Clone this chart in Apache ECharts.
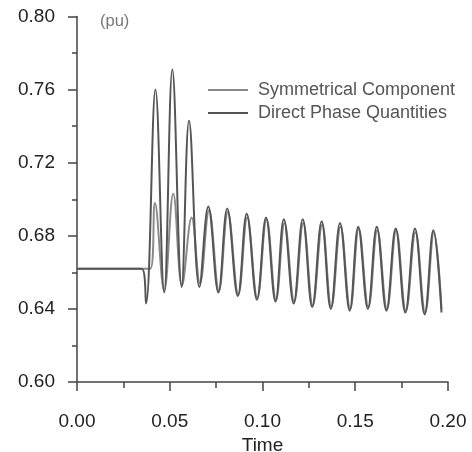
<!DOCTYPE html>
<html>
<head>
<meta charset="utf-8">
<script src="https://cdn.jsdelivr.net/npm/echarts@6/dist/echarts.min.js"></script>
<style>
html,body{margin:0;padding:0;background:#fff;}
#c{width:472px;height:452px;}
</style>
</head>
<body>
<div id="c"></div>
<script>
var seriesNames = ['Symmetrical Component', 'Direct Phase Quantities'];
var xTicks = [0.00, 0.05, 0.10, 0.15, 0.20];
var yTicks = [0.60, 0.64, 0.68, 0.72, 0.76, 0.80];

var dirTime = [0, 0.0350, 0.0372, 0.0423, 0.0470, 0.0514, 0.0564, 0.0604, 0.0660, 0.0708, 0.0762, 0.0810, 0.0867, 0.0915, 0.0970, 0.1019, 0.1070, 0.1115, 0.1168, 0.1217, 0.1268, 0.1319, 0.1368, 0.1418, 0.1470, 0.1516, 0.1568, 0.1616, 0.1668, 0.1718, 0.1770, 0.1822, 0.1874, 0.1921, 0.1965];
var dirValue = [0.662, 0.662, 0.643, 0.760, 0.649, 0.771, 0.652, 0.743, 0.652, 0.696, 0.649, 0.695, 0.647, 0.692, 0.645, 0.690, 0.644, 0.689, 0.643, 0.689, 0.641, 0.688, 0.640, 0.687, 0.639, 0.685, 0.640, 0.685, 0.639, 0.684, 0.638, 0.684, 0.637, 0.683, 0.638];

var symTime = [0, 0.0395, 0.0420, 0.0470, 0.0519, 0.0566, 0.0618, 0.0663, 0.0712, 0.0765, 0.0813, 0.0870, 0.0918, 0.0972, 0.1022, 0.1073, 0.1119, 0.1171, 0.1220, 0.1271, 0.1322, 0.1371, 0.1421, 0.1473, 0.1519, 0.1571, 0.1619, 0.1671, 0.1721, 0.1773, 0.1825, 0.1877, 0.1924, 0.1965];
var symValue = [0.662, 0.662, 0.698, 0.650, 0.703, 0.653, 0.690, 0.654, 0.694, 0.650, 0.693, 0.648, 0.690, 0.646, 0.689, 0.645, 0.687, 0.644, 0.687, 0.642, 0.686, 0.641, 0.685, 0.640, 0.684, 0.641, 0.683, 0.640, 0.683, 0.639, 0.682, 0.638, 0.682, 0.640];

function pairs(t, v) { return t.map(function (x, i) { return [x, v[i]]; }); }

var chart = echarts.init(document.getElementById('c'), null, {renderer: 'canvas'});
var font = 'Liberation Sans, Arial, sans-serif';
chart.setOption({
  animation: false,
  backgroundColor: '#ffffff',
  textStyle: {fontFamily: font},
  grid: {left: 77, right: 24, top: 16.5, bottom: 70, containLabel: false, outerBoundsMode: 'none'},
  legend: {
    orient: 'vertical', left: 203, top: 74,
    icon: 'rect', itemWidth: 40, itemHeight: 2, itemGap: 1,
    textStyle: {fontSize: 18, color: '#555', fontFamily: font, padding: [0, 0, 0, 5], lineHeight: 22},
    data: seriesNames
  },
  graphic: [{
    type: 'text', left: 100, top: 13,
    style: {text: '(pu)', fontSize: 16.5, fill: '#777', fontFamily: font}
  }],
  xAxis: {
    type: 'value', min: xTicks[0], max: xTicks[xTicks.length - 1], interval: 0.05,
    name: 'Time', nameLocation: 'middle', nameGap: 51,
    nameTextStyle: {fontSize: 19, color: '#222', fontFamily: font},
    axisLine: {show: true, lineStyle: {color: '#444', width: 1.5}},
    axisTick: {show: true, length: 9, lineStyle: {color: '#444', width: 1.5}},
    minorTick: {show: true, splitNumber: 2, length: 6, lineStyle: {color: '#444', width: 1.5}},
    splitLine: {show: false},
    axisLabel: {fontSize: 19, color: '#222', margin: 30, fontFamily: font,
      formatter: function (v) { return v.toFixed(2); }}
  },
  yAxis: {
    type: 'value', min: yTicks[0], max: yTicks[yTicks.length - 1], interval: 0.04,
    axisLine: {show: true, lineStyle: {color: '#444', width: 1.5}},
    axisTick: {show: true, length: 9, lineStyle: {color: '#444', width: 1.5}},
    minorTick: {show: true, splitNumber: 2, length: 5, lineStyle: {color: '#444', width: 1.5}},
    splitLine: {show: false},
    axisLabel: {fontSize: 19, color: '#222', margin: 22, fontFamily: font,
      formatter: function (v) { return v.toFixed(2); }}
  },
  series: [
    {
      name: seriesNames[0], type: 'line', symbol: 'none', smooth: 0.4,
      data: pairs(symTime, symValue),
      lineStyle: {color: '#8a8a8a', width: 2},
      itemStyle: {color: '#8a8a8a'}
    },
    {
      name: seriesNames[1], type: 'line', symbol: 'none', smooth: 0.4,
      data: pairs(dirTime, dirValue),
      lineStyle: {color: '#555555', width: 2},
      itemStyle: {color: '#555555'}
    }
  ]
});
</script>
</body>
</html>
